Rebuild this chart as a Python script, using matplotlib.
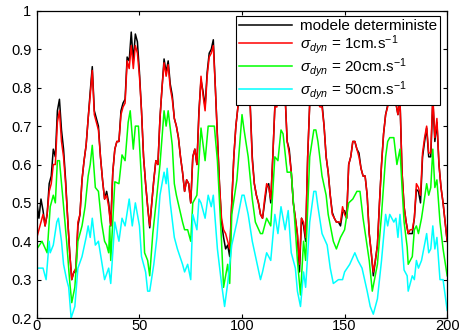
import matplotlib
matplotlib.use('Agg')
import matplotlib.pyplot as plt

# modele deterministe, one value per time step 0..200
black_y = [
    0.50, 0.46, 0.51, 0.48, 0.44, 0.47, 0.55, 0.57, 0.64, 0.62,
    0.74, 0.77, 0.69, 0.64, 0.56, 0.46, 0.37, 0.30, 0.32, 0.32,
    0.44, 0.47, 0.56, 0.61, 0.65, 0.72, 0.79, 0.855, 0.74, 0.72,
    0.70, 0.62, 0.56, 0.51, 0.53, 0.50, 0.44, 0.58, 0.64, 0.66,
    0.66, 0.74, 0.76, 0.77, 0.88, 0.87, 0.945, 0.87, 0.94, 0.92,
    0.84, 0.74, 0.62, 0.55, 0.49, 0.435, 0.50, 0.56, 0.61, 0.60,
    0.72, 0.80, 0.875, 0.84, 0.87, 0.81, 0.78, 0.72, 0.70, 0.67,
    0.62, 0.58, 0.53, 0.56, 0.55, 0.50, 0.62, 0.64, 0.60, 0.74,
    0.82, 0.79, 0.75, 0.84, 0.89, 0.90, 0.925, 0.80, 0.67, 0.55,
    0.45, 0.41, 0.38, 0.39, 0.36, 0.50, 0.62, 0.70, 0.75, 0.82,
    0.87, 0.85, 0.88, 0.80, 0.755, 0.62, 0.55, 0.52, 0.50, 0.47,
    0.46, 0.50, 0.54, 0.55, 0.50, 0.62, 0.75, 0.755, 0.80, 0.85,
    0.83, 0.78, 0.66, 0.64, 0.58, 0.50, 0.46, 0.415, 0.32, 0.46,
    0.44, 0.40, 0.62, 0.76, 0.85, 0.88, 0.84, 0.76, 0.755, 0.76,
    0.70, 0.62, 0.58, 0.52, 0.475, 0.46, 0.45, 0.45, 0.44, 0.475,
    0.48, 0.46, 0.60, 0.62, 0.66, 0.66, 0.64, 0.63, 0.59, 0.57,
    0.57, 0.52, 0.42, 0.37, 0.31, 0.35, 0.39, 0.50, 0.60, 0.68,
    0.73, 0.755, 0.82, 0.84, 0.80, 0.76, 0.73, 0.77, 0.58, 0.49,
    0.45, 0.42, 0.42, 0.42, 0.46, 0.535, 0.53, 0.50, 0.62, 0.66,
    0.695, 0.62, 0.62, 0.77, 0.66, 0.71, 0.60, 0.54, 0.50, 0.45,
    0.40,
]

# sigma_dyn = 1 cm/s
red_y = [
    0.41, 0.43, 0.45, 0.47, 0.44, 0.47, 0.53, 0.55, 0.60, 0.60,
    0.71, 0.74, 0.66, 0.62, 0.55, 0.46, 0.37, 0.30, 0.32, 0.33,
    0.45, 0.47, 0.56, 0.61, 0.65, 0.72, 0.78, 0.845, 0.73, 0.71,
    0.69, 0.62, 0.56, 0.51, 0.52, 0.49, 0.44, 0.58, 0.64, 0.66,
    0.66, 0.73, 0.75, 0.76, 0.87, 0.85, 0.91, 0.85, 0.91, 0.89,
    0.83, 0.74, 0.62, 0.55, 0.49, 0.44, 0.50, 0.56, 0.61, 0.60,
    0.72, 0.80, 0.865, 0.83, 0.86, 0.80, 0.77, 0.72, 0.70, 0.67,
    0.62, 0.58, 0.53, 0.56, 0.55, 0.50, 0.62, 0.64, 0.60, 0.73,
    0.83, 0.78, 0.74, 0.83, 0.88, 0.89, 0.91, 0.80, 0.67, 0.55,
    0.46, 0.43, 0.42, 0.40, 0.38, 0.50, 0.62, 0.70, 0.75, 0.82,
    0.86, 0.85, 0.87, 0.80, 0.75, 0.61, 0.55, 0.52, 0.50, 0.47,
    0.46, 0.51, 0.55, 0.54, 0.51, 0.62, 0.75, 0.75, 0.80, 0.84,
    0.82, 0.78, 0.66, 0.63, 0.58, 0.50, 0.46, 0.42, 0.34, 0.46,
    0.45, 0.41, 0.62, 0.76, 0.84, 0.87, 0.83, 0.76, 0.75, 0.75,
    0.70, 0.62, 0.58, 0.52, 0.47, 0.46, 0.45, 0.45, 0.45, 0.49,
    0.47, 0.46, 0.60, 0.62, 0.66, 0.66, 0.64, 0.62, 0.59, 0.57,
    0.57, 0.52, 0.42, 0.37, 0.32, 0.35, 0.39, 0.50, 0.60, 0.68,
    0.73, 0.75, 0.82, 0.84, 0.80, 0.76, 0.73, 0.77, 0.58, 0.49,
    0.45, 0.42, 0.43, 0.43, 0.46, 0.55, 0.54, 0.52, 0.63, 0.67,
    0.70, 0.63, 0.63, 0.78, 0.67, 0.72, 0.60, 0.54, 0.50, 0.45,
    0.40,
]

# sigma_dyn = 20 cm/s
green_x = [0, 2.5, 5, 6.5, 8, 9, 10, 11, 12.7, 14.5, 16, 17, 18.5, 20, 22, 23.5, 25, 26, 27, 28.5,
           30, 31.5, 33, 34, 35, 35.5, 36, 38, 40, 41.5, 43, 44.5, 45.5, 47, 48, 49.5, 51, 52.5, 54, 55,
           56.5, 58.5, 60, 62, 63, 64, 66, 67, 68, 71, 72, 73.5, 75, 76, 78, 80, 82, 83.5, 85, 86.5,
           88, 90, 91, 93, 94, 95, 97.5, 100, 101, 103, 105, 106.5, 109, 110, 112, 114, 116, 117.5, 119, 120,
           122, 124, 126, 127, 128.5, 130, 131, 133, 135, 136, 137, 139, 141, 142, 144.5, 146, 148, 150, 152, 154,
           156, 157.5, 159, 162, 163.5, 166, 168, 170, 171, 172, 174, 175.5, 177, 178, 179, 180.5, 181, 183, 184, 185,
           186, 187.5, 190, 191, 192, 193, 194, 195, 196.5, 198, 200]
green_y = [0.38, 0.40, 0.37, 0.49, 0.52, 0.50, 0.61, 0.61, 0.51, 0.40, 0.295, 0.24, 0.28, 0.40, 0.44, 0.49, 0.57, 0.60, 0.65, 0.54,
           0.53, 0.45, 0.40, 0.39, 0.37, 0.44, 0.35, 0.555, 0.55, 0.625, 0.61, 0.71, 0.74, 0.64, 0.70, 0.70, 0.56, 0.37, 0.35, 0.31,
           0.42, 0.52, 0.60, 0.74, 0.70, 0.74, 0.65, 0.55, 0.52, 0.45, 0.43, 0.43, 0.40, 0.50, 0.52, 0.695, 0.61, 0.70, 0.70, 0.70,
           0.61, 0.40, 0.28, 0.34, 0.29, 0.47, 0.56, 0.73, 0.69, 0.62, 0.51, 0.45, 0.42, 0.42, 0.46, 0.44, 0.62, 0.61, 0.69, 0.68,
           0.58, 0.58, 0.43, 0.35, 0.26, 0.40, 0.35, 0.62, 0.69, 0.69, 0.66, 0.57, 0.52, 0.47, 0.40, 0.38, 0.41, 0.43, 0.50, 0.51,
           0.53, 0.53, 0.46, 0.35, 0.27, 0.34, 0.47, 0.62, 0.66, 0.67, 0.67, 0.60, 0.64, 0.54, 0.45, 0.385, 0.34, 0.36, 0.43, 0.44,
           0.42, 0.46, 0.55, 0.52, 0.54, 0.64, 0.54, 0.56, 0.45, 0.38, 0.31]

# sigma_dyn = 50 cm/s
cyan_x = [0, 1.6, 3, 4.5, 6, 6.5, 8, 9.7, 10.5, 12, 13, 14.5, 15.5, 16.7, 18.5, 20, 22, 24, 25, 26,
          27, 28.5, 30, 31.5, 33, 35, 36, 38, 40, 41.5, 43, 45, 46.5, 48, 50, 51, 53, 54, 55, 57,
          58.5, 60, 62, 63, 63.5, 65, 67, 68.5, 71, 72, 73.5, 75, 76, 78, 79, 80, 82, 83.5, 85, 86,
          88, 90, 91.5, 93, 95, 97.5, 100, 101, 103, 105, 107, 109, 110, 112, 114, 116, 117.5, 119, 121, 122.5,
          124, 126, 127, 128.5, 130, 131, 133, 135, 136, 137, 139, 141.5, 143, 144.5, 147, 149, 150, 152.5, 155, 156.5,
          158.5, 161, 162.5, 164, 166, 168, 170, 171, 172, 174, 175, 176, 177, 179, 180.5, 181, 183, 184, 185, 186,
          187.5, 190, 191, 192, 193, 194, 195, 196.5, 198, 199, 200]
cyan_y = [0.33, 0.33, 0.33, 0.30, 0.40, 0.37, 0.39, 0.45, 0.46, 0.40, 0.34, 0.30, 0.28, 0.20, 0.23, 0.33, 0.36, 0.41, 0.44, 0.41,
          0.46, 0.39, 0.40, 0.35, 0.30, 0.33, 0.29, 0.45, 0.40, 0.46, 0.44, 0.51, 0.44, 0.50, 0.44, 0.36, 0.32, 0.27, 0.27, 0.34,
          0.41, 0.52, 0.58, 0.55, 0.59, 0.50, 0.41, 0.38, 0.34, 0.32, 0.34, 0.30, 0.47, 0.43, 0.51, 0.50, 0.46, 0.52, 0.49, 0.52,
          0.38, 0.29, 0.23, 0.29, 0.39, 0.45, 0.52, 0.52, 0.47, 0.40, 0.35, 0.30, 0.32, 0.37, 0.35, 0.47, 0.42, 0.49, 0.43, 0.48,
          0.37, 0.33, 0.27, 0.23, 0.32, 0.28, 0.45, 0.53, 0.53, 0.49, 0.42, 0.39, 0.33, 0.29, 0.30, 0.30, 0.32, 0.34, 0.37, 0.35,
          0.33, 0.27, 0.23, 0.21, 0.25, 0.35, 0.47, 0.44, 0.47, 0.45, 0.46, 0.41, 0.47, 0.325, 0.31, 0.27, 0.31, 0.30, 0.35, 0.33,
          0.35, 0.42, 0.37, 0.38, 0.44, 0.38, 0.41, 0.30, 0.30, 0.26, 0.22]

labels = ['modele deterministe',
          r'$\sigma_{dyn}$ = 1cm.s$^{-1}$',
          r'$\sigma_{dyn}$ = 20cm.s$^{-1}$',
          r'$\sigma_{dyn}$ = 50cm.s$^{-1}$']

plt.rcParams['font.family'] = ['Liberation Sans', 'DejaVu Sans']
plt.rcParams['mathtext.fontset'] = 'custom'
plt.rcParams['mathtext.rm'] = 'Liberation Sans'
plt.rcParams['mathtext.it'] = 'Liberation Sans:italic'

fig = plt.figure(figsize=(4.61, 3.33), dpi=100)
ax = fig.add_axes([0.080, 0.045, 0.890, 0.922])

t = list(range(len(black_y)))
ax.plot(t, black_y, color='k', lw=1.1, label=labels[0])
ax.plot(t, red_y, color='#ff0000', lw=1.1, label=labels[1])
ax.plot(green_x, green_y, color='#00ff00', lw=1.1, label=labels[2])
ax.plot(cyan_x, cyan_y, color='#00ffff', lw=1.1, label=labels[3])

ax.set_xlim(0, 200)
ax.set_ylim(0.2, 1)
ax.set_xticks([0, 50, 100, 150, 200])
ax.set_yticks([0.2, 0.3, 0.4, 0.5, 0.6, 0.7, 0.8, 0.9, 1])
ax.set_yticklabels(['0.2', '0.3', '0.4', '0.5', '0.6', '0.7', '0.8', '0.9', '1'])
ax.tick_params(direction='in', top=True, right=True, length=3, width=0.8, labelsize=10.5)
ax.tick_params(axis='x', pad=1)
ax.tick_params(axis='y', pad=4)
for s in ax.spines.values():
    s.set_linewidth(0.9)

leg = ax.legend(loc='upper right', bbox_to_anchor=(0.983, 0.984), borderaxespad=0, fancybox=False,
                framealpha=1, edgecolor='k', fontsize=11, handlelength=3.5, handletextpad=0.5,
                labelspacing=0.0, borderpad=0.2)
leg.get_frame().set_linewidth(0.8)

fig.savefig('out.png', dpi=100)
